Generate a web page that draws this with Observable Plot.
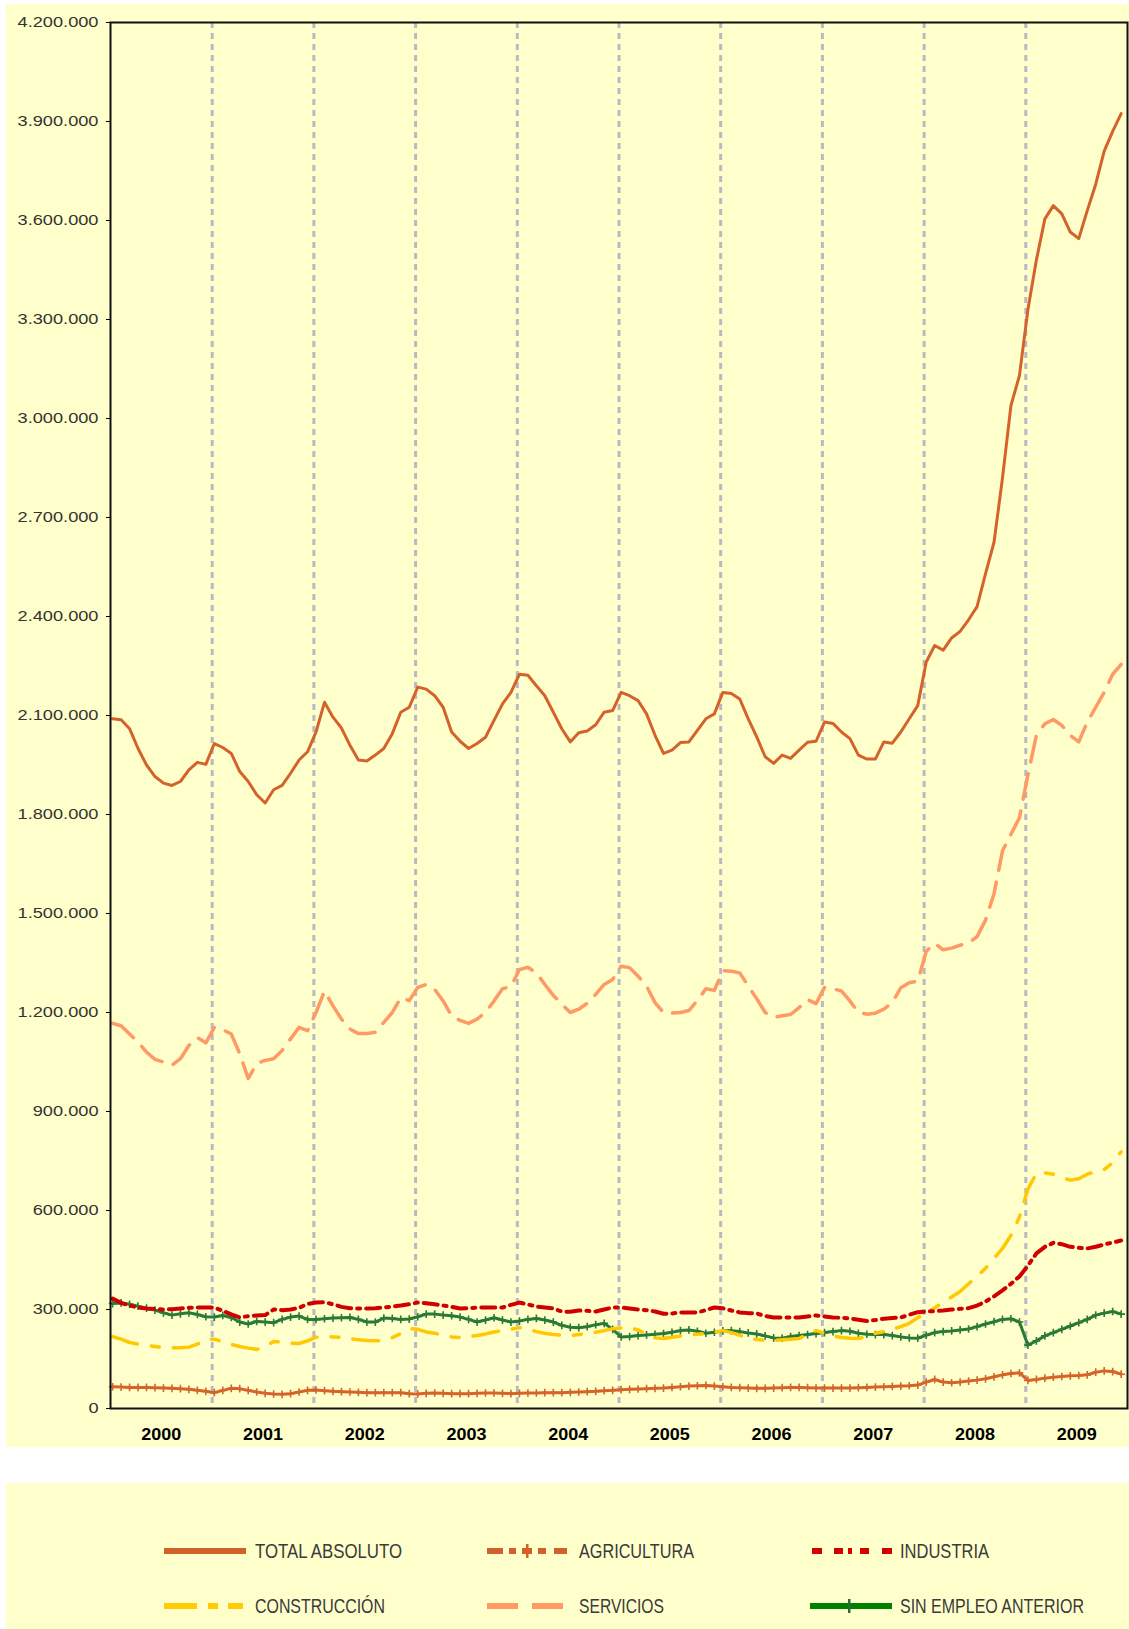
<!DOCTYPE html>
<html><head><meta charset="utf-8">
<script src="https://cdn.jsdelivr.net/npm/d3@7"></script>
<script src="https://cdn.jsdelivr.net/npm/@observablehq/plot@0.6"></script>
<style>
body{margin:0;background:#fff;width:1129px;height:1629px;overflow:hidden;}
#chart{position:absolute;left:6px;top:4px;}
#legend{position:absolute;left:6px;top:1483px;}
</style></head><body>
<div id="chart"></div><div id="legend"></div>
<script>
// Paro registrado mensual 2000-2009 (miles de personas), ene 2000 ... dic 2009
const years = [2000,2001,2002,2003,2004,2005,2006,2007,2008,2009];
const yTicks = [0,300000,600000,900000,1200000,1500000,1800000,2100000,2400000,2700000,3000000,3300000,3600000,3900000,4200000];

const totalAbsoluto = [
2090,2087,2060,2000,1950,1915,1895,1888,1900,1935,1958,1952,
2015,2003,1985,1930,1900,1860,1835,1875,1888,1925,1965,1990,
2050,2140,2095,2062,2010,1965,1962,1980,2000,2045,2110,2125,
2186,2180,2160,2125,2050,2022,2000,2015,2034,2085,2135,2170,
2225,2222,2190,2160,2110,2060,2020,2048,2053,2072,2110,2115,
2170,2160,2145,2105,2040,1985,1995,2018,2020,2055,2090,2105,
2170,2167,2150,2090,2035,1975,1955,1980,1970,1995,2019,2022,
2080,2076,2050,2030,1980,1968,1968,2020,2016,2050,2090,2130,
2262,2312,2298,2335,2355,2390,2430,2530,2625,2820,3040,3130,
3330,3480,3605,3645,3620,3565,3545,3630,3710,3810,3870,3924];

const agricultura = [
66,65,64,64,64,63,62,61,60,58,55,52,
48,55,61,60,55,50,46,44,43,45,50,55,
56,54,52,51,50,49,48,48,48,48,48,45,
44,46,47,46,45,45,45,46,47,47,46,45,
46,47,47,48,48,48,49,50,51,52,54,55,
57,58,59,60,61,62,64,66,68,69,70,68,
66,64,63,62,61,61,62,63,64,64,63,62,
62,62,62,62,63,64,65,66,67,68,69,71,
80,88,80,78,80,83,86,90,96,102,106,108,
85,88,92,95,97,99,100,102,110,114,112,104];

const industria = [
333,320,312,306,303,301,300,301,303,305,306,306,
306,296,285,276,280,282,283,300,298,300,305,317,
321,322,316,308,304,303,303,304,306,309,312,316,
321,319,316,312,308,303,304,306,306,306,306,314,
321,315,309,306,303,294,293,297,296,294,300,306,
306,303,300,298,294,287,288,291,291,291,298,306,
304,297,291,289,288,280,276,276,276,276,279,282,
279,276,275,273,269,265,268,272,274,276,284,292,
294,295,297,300,302,304,312,324,340,358,378,400,
433,470,490,502,498,490,487,485,490,497,503,509];

const construccion = [
218,210,200,195,191,188,185,184,184,186,195,210,
210,202,194,188,183,179,188,203,201,198,197,205,
216,218,217,215,212,208,206,205,206,215,227,242,
240,232,228,222,217,215,218,221,226,232,236,240,
245,240,233,228,224,222,221,224,228,231,236,242,
244,245,238,226,214,212,216,220,222,225,227,232,
236,230,222,213,209,207,206,208,210,212,225,236,
228,220,215,213,212,218,228,233,240,248,258,275,
290,305,322,338,355,378,400,425,455,485,525,580,
665,712,714,710,700,692,696,710,718,724,745,778];

const servicios = [
1167,1160,1135,1110,1080,1058,1050,1040,1060,1100,1124,1108,
1155,1148,1135,1075,1000,1045,1055,1060,1085,1120,1155,1145,
1200,1265,1220,1180,1150,1136,1136,1140,1170,1200,1245,1236,
1276,1285,1270,1235,1190,1176,1167,1180,1200,1235,1272,1278,
1330,1337,1320,1285,1252,1225,1200,1210,1228,1255,1285,1300,
1340,1336,1310,1280,1230,1200,1198,1200,1206,1236,1272,1267,
1327,1325,1320,1280,1242,1200,1185,1190,1194,1215,1239,1227,
1276,1272,1265,1235,1200,1195,1198,1210,1230,1275,1290,1295,
1385,1410,1390,1395,1404,1410,1430,1480,1560,1690,1740,1790,
1920,2040,2075,2088,2070,2040,2020,2080,2125,2170,2225,2255];

const sinEmpleoAnterior = [
318,320,316,310,304,298,290,283,287,290,285,278,
277,282,276,262,256,264,262,260,270,277,280,270,
270,272,274,275,276,270,262,262,274,273,270,271,
278,286,286,283,281,277,270,262,268,275,268,262,
265,270,273,268,262,252,246,245,248,254,258,240,
217,218,221,223,225,227,231,236,238,234,228,231,
235,236,233,229,226,220,214,213,218,221,224,227,
230,233,236,234,228,225,224,224,221,217,214,213,
222,230,233,235,238,241,248,256,263,270,272,262,
192,205,220,230,240,250,260,270,283,289,294,286];

const legendLabels = ["TOTAL ABSOLUTO","AGRICULTURA","INDUSTRIA","CONSTRUCCIÓN","SERVICIOS","SIN EMPLEO ANTERIOR"];

const C = {
  total:"#D5622A", agri:"#D5642A", ind:"#D00000", cons:"#FFC800", serv:"#FF9966", sin:"#2A7A36"
};

const rows = (vals) => vals.map((v,i) => ({x: 2000 + (i + 0.25) / 12, y: v * 1000}));
const fmt = d => d3.format(",")(d).replace(/,/g, ".");

const plot = Plot.plot({
  width: 1123, height: 1443,
  marginLeft: 104, marginRight: 2, marginTop: 18, marginBottom: 39,
  style: {background: "#FFFFCC", fontFamily: "'Liberation Sans', Arial, sans-serif", overflow: "visible"},
  x: {domain: [2000, 2010], label: null},
  y: {domain: [0, 4200000], label: null},
  marks: [
    Plot.ruleX(years.slice(1), {stroke: "#b9b9c4", strokeWidth: 3, strokeDasharray: "6,5"}),
    Plot.line(rows(agricultura), {x: "x", y: "y", stroke: C.agri, strokeWidth: 3}),
    Plot.dot(rows(agricultura), {x: "x", y: "y", symbol: "plus", r: 2.6, stroke: C.agri, strokeWidth: 1.6}),
    Plot.line(rows(sinEmpleoAnterior), {x: "x", y: "y", stroke: C.sin, strokeWidth: 3}),
    Plot.dot(rows(sinEmpleoAnterior), {x: "x", y: "y", symbol: "plus", r: 2.6, stroke: C.sin, strokeWidth: 1.6}),
    Plot.line(rows(construccion), {x: "x", y: "y", stroke: C.cons, strokeWidth: 3.5, strokeDasharray: "26,14,8,14"}),
    Plot.line(rows(industria), {x: "x", y: "y", stroke: C.ind, strokeWidth: 4, strokeDasharray: "14,6,3,6"}),
    Plot.line(rows(servicios), {x: "x", y: "y", stroke: C.serv, strokeWidth: 3.5, strokeDasharray: "26,12"}),
    Plot.line(rows(totalAbsoluto), {x: "x", y: "y", stroke: C.total, strokeWidth: 3}),
    Plot.frame({stroke: "#111", strokeWidth: 2}),
    Plot.axisY({ticks: yTicks, tickFormat: fmt, tickSize: 4, tickPadding: 8, fontSize: 14, fill: "#333", stroke: "#000", label: null}),
    Plot.axisX({ticks: years.map(y => y + 0.5), tickFormat: d => String(Math.floor(d)), tickSize: 0, tickPadding: 19, fontSize: 17, fontWeight: "bold", fill: "#000", label: null})
  ]
});
document.getElementById("chart").appendChild(plot);

// widen y labels like the original
d3.select(plot).selectAll('g[aria-label="y-axis tick label"] text').each(function(){
  const t = this.textContent;
  const digits = (t.match(/\d/g) || []).length, dots = (t.match(/\./g) || []).length;
  const w = 14 * 1.3 * (digits * 0.556 + dots * 0.278);
  d3.select(this).attr("textLength", w).attr("lengthAdjust", "spacingAndGlyphs");
});
d3.select(plot).selectAll('g[aria-label="x-axis tick label"] text')
  .attr("font-weight", "bold").attr("textLength", 40).attr("lengthAdjust", "spacingAndGlyphs");

// Legend panel
const L = d3.select("#legend").append("svg").attr("width", 1123).attr("height", 146)
  .style("background", "#FFFFCC").style("display", "block");
const r1 = 68, r2 = 123, th = 6;
const seg = (x1, x2, y, col) => L.append("rect").attr("x", x1).attr("y", y - th/2).attr("width", x2 - x1).attr("height", th).attr("fill", col);
const tick = (x, y, col) => L.append("rect").attr("x", x - 1).attr("y", y - 7).attr("width", 2.5).attr("height", 14).attr("fill", col);
// total
seg(158, 240, r1, "#D2602A");
// agricultura
[[481,497],[503,510],[516,526],[532,540],[548,561]].forEach(([a,b]) => seg(a, b, r1, "#D2602A"));
tick(521, r1, "#D2602A");
// industria
[[806,816],[828,837],[842,846],[854,863],[876,886]].forEach(([a,b]) => seg(a, b, r1, "#D40000"));
// construccion
[[158,191],[202,212],[222,237]].forEach(([a,b]) => seg(a, b, r2, "#FFCC00"));
// servicios
[[481,512],[526,557]].forEach(([a,b]) => seg(a, b, r2, "#FF9966"));
// sin empleo
seg(804, 886, r2, "#008000");
tick(843, r2, "#2A6A36");

const labPos = [[249, r1, 147],[573, r1, 115],[894, r1, 89],[249, r2, 130],[573, r2, 85],[894, r2, 184]];
legendLabels.forEach((t, i) => {
  const [x, y, w] = labPos[i];
  L.append("text").attr("x", x).attr("y", y).attr("dy", "0.36em")
    .attr("font-family", "'Liberation Sans', Arial, sans-serif").attr("font-size", 20)
    .attr("fill", "#3a3a3a").attr("textLength", w).attr("lengthAdjust", "spacingAndGlyphs").text(t);
});
</script>
</body></html>
